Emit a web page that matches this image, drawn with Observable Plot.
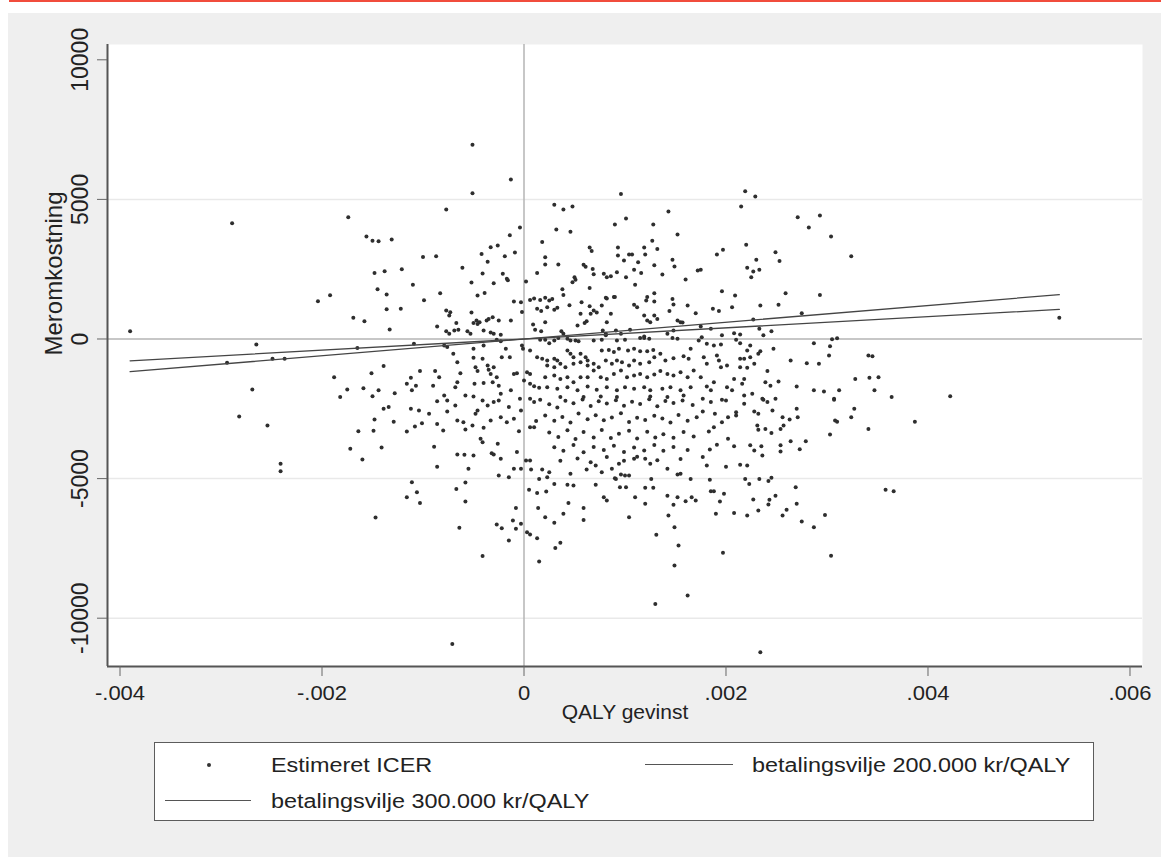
<!DOCTYPE html>
<html><head><meta charset="utf-8">
<script src="https://cdn.jsdelivr.net/npm/d3@7"></script>
<script src="https://cdn.jsdelivr.net/npm/@observablehq/plot@0.6"></script>
<style>
html,body{margin:0;padding:0;background:#fff;}
body{width:1161px;height:857px;position:relative;overflow:hidden;font-family:"Liberation Sans",Arial,sans-serif;}
#redbar{position:absolute;left:9px;top:0;width:1152px;height:2px;background:#f14c3c;}
#panel{position:absolute;left:8px;top:13px;width:1153px;height:844px;background:#efefef;}
#chart{position:absolute;left:0;top:0;}
#legend{position:absolute;left:146px;top:729px;width:940px;height:79px;box-sizing:border-box;border:1.5px solid #5c5c5c;background:#fff;}
.lg-text{position:absolute;font-size:20px;line-height:24px;color:#222;white-space:nowrap;transform:scaleX(1.17);transform-origin:0 50%;}
.lg-line{position:absolute;height:0;border-top:1.5px solid #555;}
.lg-dot{position:absolute;width:4px;height:4px;border-radius:50%;background:#333;}
</style></head>
<body>
<div id="redbar"></div>
<div id="panel"><div id="chart"></div><div id="legend"></div></div>
<script>
// QALY gain (x) and extra cost in kr (y) of each bootstrap replicate
const qaly = [
-.00289,-.0039,-.00265,-.00269,-.00282,-.00254,-.00241,-.00241,-.00294,-.00249,-.00237,
-.00051,-.00013,-.00051,-.00077,-.00174,.00096,-.00004,-.00014,.0003,.00039,
.00048,.00032,.00046,.00101,.0009,.00128,.00143,.00152,-.00156,-.0015,
-.00144,-.00131,-.001,-.00087,-.00148,-.00138,-.00121,-.00145,-.00136,-.0011,
-.00061,-.00204,-.00192,-.00136,-.00122,-.00099,-.00083,-.00169,-.00158,-.00133,
-.00086,-.00042,-.00033,-.00026,-.00019,-.00009,-.00041,-.00052,-.0003,-.00021,
-.00017,-.00016,-.00046,-.00039,-.00036,.00018,.00021,.00021,.00034,.00013,
.00002,.00059,.00061,.00068,.00069,.00065,.00067,.00093,.00093,.00104,
.00107,.00099,.00119,.0012,.00127,.00132,.00113,.00116,.00109,.00129,
.00137,.00147,.00149,.0016,.00172,.00079,.00082,.00086,.00092,.00101,
.0005,.00048,.00051,.00038,.00039,.00065,.00089,.00081,.0011,.00006,
.0001,.00016,.00021,.00025,.00028,.00023,.0003,.00033,.00013,.00017,
.00045,.00057,.00065,.00069,.00072,.00066,.00056,.00062,.00053,.0006,
.00077,.00082,.00086,.00082,.0009,.00109,.00112,.00122,.00121,.00129,
.00129,.00119,.00122,.00125,.00129,.00132,.00147,.00148,.00144,.00162,
.0017,.00152,.00157,-.00003,-.00002,-.0001,-.00052,-.00077,-.00073,-.00074,
-.00067,-.00065,-.00069,-.0005,-.00047,-.00046,-.00044,-.0004,-.00037,-.00035,
-.00031,-.00025,-.00013,-.00056,-.00053,-.00077,-.00074,-.00033,-.0003,-.00023,
.00009,.00011,.00017,.00021,.00037,.00039,.00078,.00081,.00091,.00096,
.00105,.00119,.00142,.00148,.00155,
-.00027,-.00023,-.00002,-.00001,.00016,.00021,.00025,.0003,.00034,.00043,
.00046,.00051,.00054,.00069,.00077,.00081,.00092,.001,.00115,.00119,
.00124,.00147,.00152,.00165,.00148,.00158,.00163,.00173,-.0005,-.0004,
-.0007,-.00066,-.00079,-.00076,-.00109,-.00165,-.00139,-.00188,-.00151,-.00175,
-.00182,-.00159,-.0015,-.00144,-.00128,-.00116,-.00111,-.00112,-.00107,-.00103,
-.0009,-.00088,-.00084,-.00079,-.00058,-.0005,-.00068,-.00066,-.00063,-.0005,
-.00048,-.00046,-.00041,-.00036,-.00035,-.0003,-.00033,-.00027,-.00031,-.00025,
-.00022,-.00018,-.00014,-.0004,-.00049,-.00023,-.00013,-.0001,-.00007,.00003,
.00006,0,.00006,.0001,.00015,.00006,.00013,.00018,.00023,.0003,
.00033,.00043,.00046,.00049,.00056,.00061,.00063,.00077,.00084,.00089,
.00094,.00103,.00109,.00115,.00122,.00128,.00023,.0003,.00036,.00041,
.00049,.00056,.00063,.00069,.00074,.00081,.00087,.00092,.00097,.00104,
.00109,.00115,.00124,.00129,.00135,.0014,.00021,.0003,.00036,.00043,
.00049,.00056,.00063,.00069,.00076,.00082,.00089,.00096,.00102,.00109,
.00115,.00122,.00129,.00135,.00142,.00148,.00155,.00162,.00168,.00023,
.00033,.00043,.00053,.00063,.00072,.00082,.00092,.001,.00109,.00119,
.00125,.00137,.00145,.00155,.00165,.00036,.00059,.00076,.00092,.00125,
.00142,.00158,
.00219,.00229,.00215,.00271,.00282,.00293,.00304,.00324,.0022,.00191,
.00197,.00249,.00253,.0023,.00221,.00227,.00233,.00225,.00175,.00196,
.00209,.00259,.00293,.00187,.00193,.00206,.00234,.00252,.00275,.00227,
.00175,.00185,.00196,.00208,.00214,.00233,.00237,.00245,.0053,.00287,
.00303,.00305,.0031,.00341,.00345,.00176,.00181,.00188,.00195,.0021,
.00214,.00224,.00221,.00234,.00232,.00247,.00214,.00218,.00224,.00228,
.00191,.00193,.00178,.00181,.00264,.0028,.00292,.00302,.00195,.00201,
.00214,.00221,.00175,.00188,.00208,.00216,.00218,.00241,.00239,.00244,
.00252,.0027,.00287,.00297,.00312,.00328,.00342,.00351,.00347,.00364,
.00422,.00181,.00185,.00201,.00206,.00218,.00226,.00236,.00307,.00249,
-.00139,-.00134,-.00148,-.00129,-.00164,-.00149,-.00172,-.00141,-.0016,-.00116,
-.00108,-.00101,-.00089,-.00086,-.00086,-.0008,-.00112,-.00104,-.00094,-.00086,
-.00076,-.00068,-.00076,-.00066,-.0006,-.00058,-.00051,-.00066,-.00059,-.0005,
-.00055,-.00111,-.00106,-.00116,-.00103,-.00067,-.00058,-.00058,-.00147,-.00064,
-.00041,-.00071,-.00046,-.00041,-.00036,-.0003,-.00025,-.00048,-.0004,-.00033,
-.00023,-.00017,-.0001,-.00043,-.00041,-.00032,-.0003,-.00026,-.00023,-.00015,
-.00003,-.00004,.00006,.0001,-.00005,-.00007,.00006,.0001,.00012,-.0001,
-.00003,.00002,.00006,.00007,.00018,-.00025,-.00015,-.00008,-.00011,-.00008,
-.00003,-.00027,-.00022,-.00015,.00003,.00006,.00013,.00015,.00014,.00021,
.0003,.00031,.00036,.00005,.00013,.00022,.0003,.00039,.00044,.00059,
.00059,.00023,.00025,.00015,.00043,.00049,.00071,.00079,.00082,.0009,
.00095,.001,.00104,.00101,.00104,.0011,.0012,.0012,.00126,.00128,
.00143,.00149,.00131,.00153,.00149,.0013,.00162,.00142,.00148,.00152,
.00166,.0017,.0016,.00142,.00152,.00155,.00165,.00125,.0012,.00109,
.00096,.00091,.00046,.00062,.00071,.00077,.00087,.00094,.00016,.00025,
.00033,.00041,.00049,.00058,.00066,.00074,.00082,.00091,.00099,.00107,
.00115,.00124,.00132,.0014,.00148,.00157,.00167,.00021,.0003,.00038,
.00046,.00054,.00063,.00071,.00079,.00087,.00096,.00104,.00112,.0012,
.00129,.00137,.00145,.00153,.00162,.00171,.00025,.00034,.00043,.00051,
.00059,.00069,.00077,.00086,.00094,.00104,.00112,.00122,.0013,.00138,
.00148,.00158,.00168,.0003,.00039,.00049,.00059,.00069,.00079,.00089,
.00099,.00109,.00119,.00129,.00138,.00148,.00162,.00036,.00053,.00066,
.00082,.00099,.00112,.00132,.00155,
.00387,.00341,.00303,.00308,.0031,.00324,.00327,.00307,.00358,.00366,
.00304,.00197,.00234,.00269,.0027,.00298,.00275,.00287,.00256,.0026,
.00242,.00243,.00249,.00232,.00227,.00221,.00208,.0019,.00194,.00198,
.00185,.00188,.00184,.00219,.00223,.00233,.00242,.00245,.00181,.002,
.00214,.00221,.00177,.00184,.00191,.00202,.00208,.00224,.00228,.00235,
.00236,.00254,.00254,.00264,.00273,.00279,.00183,.00188,.00196,.00202,
.0021,.00231,.00232,.00239,.00245,.00254,.00257,.00256,.00263,.00271,
.0027,.00228,.00232,.00246,.00241,.00237,.00177,.00189,.0021,.00218,
.002,.00196,.00177,.00185
];
const cost = [
4150,280,-200,-1810,-2780,-3100,-4470,-4735,-850,-710,-710,
6960,5710,5220,4640,4360,5190,3990,3720,4810,4640,
4750,3920,3840,4320,4100,4100,4570,3740,3670,3520,
3500,3560,2940,2960,2360,2430,2500,1780,1590,1940,
2550,1350,1570,1070,1080,1390,1640,760,640,340,
450,3040,3290,3350,2960,3100,2350,2020,2000,2340,
2160,2100,1560,1650,2770,3470,2930,2670,2670,2360,
2060,2660,2590,2510,2320,3280,3150,3280,2990,3030,
3030,2810,3280,3030,3520,3220,2750,2360,2480,2640,
2310,2840,2600,2130,2450,2340,2210,2250,2390,2210,
2210,2030,2120,1780,1580,1830,1500,1480,1940,1400,
1450,1400,1480,1380,1430,1140,1050,1120,1080,1000,
1210,1320,1170,1020,950,900,900,640,480,570,
1200,1450,900,600,1500,1230,1140,1500,1380,1640,
1340,840,660,600,840,720,1430,1240,1000,1200,
920,660,590,1320,970,1340,950,1020,960,840,
570,330,300,570,660,540,600,300,660,720,
780,660,660,280,190,280,190,230,190,150,
520,330,280,600,280,190,300,190,300,190,
330,90,190,300,600,
-30,-80,-230,-350,-30,-30,-150,-50,40,10,
-50,-50,-80,-50,-30,130,-50,-30,40,40,
10,40,10,-350,-690,-620,-710,-50,-350,-230,
-530,-830,-230,-290,-170,-320,-970,-1370,-1230,-1810,
-2080,-1760,-2050,-1840,-1940,-1600,-1840,-1390,-1670,-1150,
-1670,-1150,-1370,-2020,-2020,-2060,-1730,-1550,-1230,-670,
-1010,-1150,-710,-950,-1100,-1010,-1250,-1370,-1550,-1670,
-650,-350,-650,-1580,-1600,-1960,-1840,-1250,-1230,-1190,
-1250,-1490,-1600,-1690,-1750,-410,-650,-710,-770,-710,
-770,-410,-530,-650,-530,-650,-770,-410,-390,-470,
-350,-410,-350,-440,-440,-390,-950,-1010,-890,-1010,
-890,-830,-950,-890,-1010,-770,-890,-770,-830,-950,
-770,-890,-830,-650,-530,-770,-1370,-1310,-1430,-1370,
-1550,-1370,-1370,-1130,-1370,-1430,-1250,-1130,-1370,-1310,
-1250,-1370,-1270,-1150,-1250,-1310,-1190,-1370,-1130,-1730,
-1780,-1730,-1840,-1700,-1820,-1730,-1840,-1730,-1780,-1730,
-1840,-1780,-1730,-1840,-1730,-2080,-2080,-2060,-2080,-2060,
-2080,-2020,
5290,5100,4750,4360,3990,4420,3670,2960,3380,3030,
3200,3110,2790,2840,2550,2420,2480,2210,2480,1710,
1560,1640,1580,1080,1000,1140,1200,1230,920,700,
450,370,130,210,160,370,130,280,760,-150,
-260,-10,30,-590,-620,60,-170,-230,-200,-30,
-150,-230,-410,-440,-530,-350,-710,-710,-650,-890,
-590,-770,-650,-890,-770,-870,-890,-590,-1010,-950,
-1010,-1030,-1370,-1550,-1430,-1600,-1430,-1150,-1550,-1670,
-1520,-1700,-1840,-1880,-1840,-1430,-1390,-1370,-1840,-2080,
-2050,-1700,-1840,-1730,-1840,-2020,-1960,-2140,-2140,-2140,
-2500,-2440,-2880,-2960,-3300,-3290,-3930,-3890,-4320,-3310,
-3130,-3020,-3860,-4580,-3040,-3280,-2500,-2560,-2680,-2230,
-2200,-2380,-2600,-2920,-2980,-3240,-3100,-4140,-4150,-4170,
-4650,-5130,-5490,-5670,-5870,-5370,-5140,-5820,-6390,-6760,
-7770,-10920,-2560,-2200,-2380,-2260,-2200,-2680,-3180,-2920,
-2800,-2980,-2860,-3570,-3700,-4090,-4140,-3750,-4290,-2440,
-2560,-2140,-2140,-2260,-3300,-4050,-3160,-3160,-2940,-4650,
-4650,-4350,-4350,-4670,-4670,-4890,-4950,-6050,-6500,-6800,
-6620,-6640,-6780,-7220,-6920,-7000,-7140,-7970,-6050,-6380,
-6580,-7490,-7300,-5400,-5520,-5460,-5190,-6260,-5870,-6050,
-6480,-4950,-4770,-5010,-5220,-5250,-5220,-5670,-5780,-4990,
-5310,-4890,-4890,-5310,-6380,-5670,-5900,-5330,-5010,-5330,
-6320,-6740,-7010,-7400,-8110,-9490,-9190,-5610,-5940,-5670,
-5670,-5780,-5810,-4650,-4850,-4830,-5010,-4470,-4290,-4290,
-4850,-5010,-4830,-4670,-4530,-4770,-4650,-4470,-2180,-2340,
-2450,-2210,-2300,-2170,-2400,-2230,-2310,-2190,-2390,-2250,
-2330,-2160,-2410,-2220,-2290,-2200,-2360,-2740,-2930,-2790,
-2990,-2670,-2870,-2730,-2910,-2810,-2660,-2970,-2820,-2900,
-2750,-2850,-2990,-2720,-2930,-2800,-3350,-3510,-3270,-3580,
-3330,-3530,-3260,-3550,-3390,-3290,-3560,-3320,-3530,-3410,
-3540,-3330,-3490,-3880,-4000,-3800,-4060,-3870,-3980,-3820,
-4050,-3890,-3990,-3800,-4000,-3870,-3980,-4360,-4280,-4410,
-4230,-4360,-4220,-4340,-4300,
-2960,-3220,-3420,-2920,-2960,-2800,-2500,-2180,-5400,-5450,
-7760,-7660,-11220,-5310,-5900,-6300,-6540,-6740,-6320,-6120,
-5930,-5760,-5610,-6140,-5750,-6320,-6230,-6260,-5820,-5540,
-5450,-5450,-5040,-5010,-5190,-5010,-5090,-4970,-4530,-4580,
-4500,-4530,-4230,-3960,-3790,-3570,-3840,-3810,-3990,-3840,
-4170,-3810,-4030,-3660,-3950,-3660,-3310,-3160,-2980,-2800,
-2740,-3100,-3250,-3220,-3370,-3220,-3100,-2800,-2880,-2800,
-2500,-2600,-2680,-2560,-2260,-2180,-2600,-2680,-2620,-2320,
-2200,-2180,-2140,-2260
];
const xTicks = [-0.004, -0.002, 0, 0.002, 0.004, 0.006];
const yTicks = [-10000, -5000, 0, 5000, 10000];
const yGrid = [-10000, -5000, 5000];
const wtp = [200000, 300000];
const xTitle = "QALY gevinst";
const yTitle = "Meromkostning";
const legendLabels = ["Estimeret ICER", "betalingsvilje 200.000 kr/QALY", "betalingsvilje 300.000 kr/QALY"];

if (qaly.length !== cost.length) console.error("length mismatch", qaly.length, cost.length);

const xDomain = [-0.0041238, 0.0061238];
const yDomain = [-11730, 10548];
const fmtX = d => d === 0 ? "0" : (d < 0 ? "-" : "") + Math.abs(d).toFixed(3).slice(1);
const idx = d3.range(Math.min(qaly.length, cost.length));
const [xmin, xmax] = d3.extent(qaly);
const wtpLines = wtp.flatMap(w => [{w, x: xmin, y: w * xmin}, {w, x: xmax, y: w * xmax}]);

const chart = Plot.plot({
  width: 1153, height: 725,
  marginLeft: 99, marginRight: 19, marginTop: 31, marginBottom: 72,
  x: {domain: xDomain},
  y: {domain: yDomain},
  style: {background: "transparent", fontFamily: '"Liberation Sans", Arial, sans-serif', color: "#222", overflow: "visible"},
  marks: [
    Plot.frame({fill: "#fff", stroke: null}),
    Plot.ruleY(yGrid, {stroke: "#e9e9e9", strokeWidth: 1.5}),
    Plot.ruleY([0], {stroke: "#b5b5b5", strokeWidth: 1.5}),
    Plot.ruleX([0], {stroke: "#b5b5b5", strokeWidth: 1.5}),
    Plot.dot(idx, {x: i => qaly[i], y: i => cost[i], r: 2, fill: "#2e2e2e", stroke: null}),
    Plot.line(wtpLines, {x: "x", y: "y", z: "w", stroke: "#454545", strokeWidth: 1.3}),
    Plot.ruleX([xDomain[0]], {stroke: "#555", strokeWidth: 2}),
    Plot.ruleY([yDomain[0]], {stroke: "#555", strokeWidth: 2}),
    Plot.axisX(xTicks, {tickSize: 10, tickPadding: 9, tickFormat: fmtX, fontSize: 20, stroke: "#666", fill: "#222", label: null}),
    Plot.axisY(yTicks, {tickSize: 10, tickPadding: 10, tickRotate: -90, tickFormat: d => String(d), fontSize: 23, stroke: "#666", fill: "#222", label: null}),
    Plot.text([xTitle], {frameAnchor: "bottom", dy: 52, fontSize: 21, fill: "#222", ariaLabel: "x-title"}),
    Plot.text([yTitle], {frameAnchor: "left", dx: -53, rotate: -90, fontSize: 24, fill: "#222", ariaLabel: "y-title"})
  ]
});
document.getElementById("chart").append(chart);

function stretch(sel, k) {
  chart.querySelectorAll(sel).forEach(t => {
    const L = t.getComputedTextLength();
    t.setAttribute("textLength", (L * k).toFixed(2));
    t.setAttribute("lengthAdjust", "spacingAndGlyphs");
  });
}
stretch('g[aria-label="x-axis tick label"] text', 1.1);
stretch('g[aria-label="x-title"] text', 1.17);

// legend
const lg = document.getElementById("legend");
function add(cls, styles, text) {
  const e = document.createElement("div");
  e.className = cls;
  Object.assign(e.style, styles);
  if (text) e.textContent = text;
  lg.append(e);
}
add("lg-dot", {left: "52px", top: "19.5px"});
add("lg-text", {left: "116px", top: "9.5px"}, legendLabels[0]);
add("lg-line", {left: "489.5px", top: "20.5px", width: "88px"});
add("lg-text", {left: "596.5px", top: "9.5px"}, legendLabels[1]);
add("lg-line", {left: "9.5px", top: "56.5px", width: "86px"});
add("lg-text", {left: "116px", top: "45.5px"}, legendLabels[2]);
</script>
</body></html>
